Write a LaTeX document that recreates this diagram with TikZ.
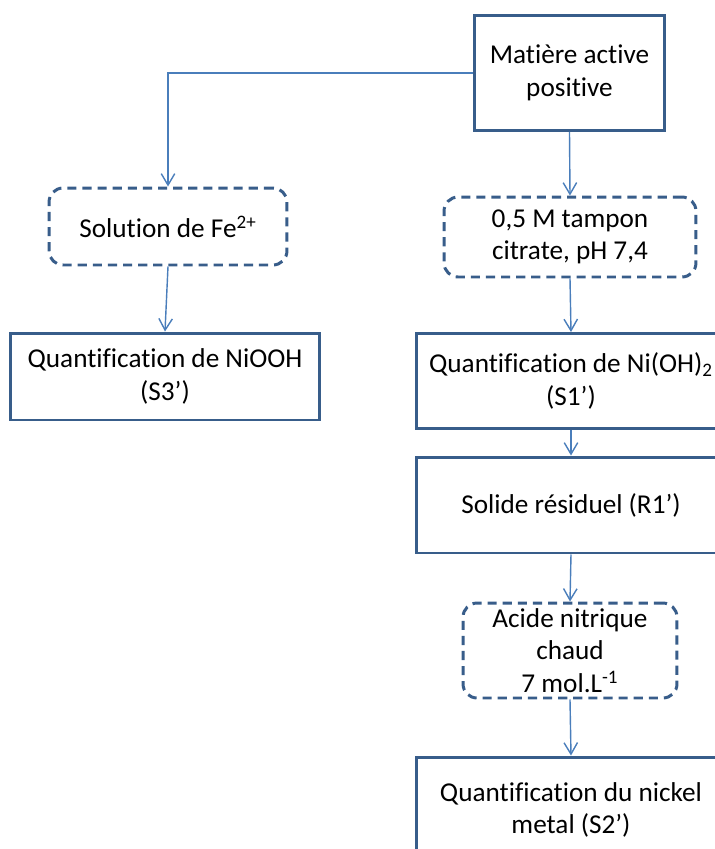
\documentclass[tikz,border=0pt]{standalone}
\usepackage{fontspec}
\setmainfont[Ligatures=NoCommon]{Carlito}
\usepackage{tikz}
\usetikzlibrary{arrows.meta, positioning}
\definecolor{cBox}{RGB}{56,93,138}
\definecolor{cLine}{RGB}{74,126,187}
\tikzset{
	procbox/.style ={rectangle, draw=cBox, line width=1.7pt, align=center, fill=white, inner sep=2pt},
	dashbox/.style ={rectangle, rounded corners=8pt, draw=cBox, line width=1.7pt, dash pattern=on 5.2pt off 3.4pt, align=center, fill=white, inner sep=2pt},
	flowarrow/.style={-{Straight Barb[length=2.3mm, width=2.7mm]}, draw=cLine, line width=0.8pt},
}
\begin{document}
\begin{tikzpicture}[x=0.02cm, y=-0.02cm, font=\fontsize{15.5}{18.5}\selectfont]
	\useasboundingbox (0,0) rectangle (715,849);
	\clip (0,0) rectangle (715,849);
	% main column
	\node[procbox, minimum width=3.82cm, minimum height=2.3cm] (matiere) at (569.5,73) {Matière active\\ positive};
	\node[dashbox, minimum width=5.04cm, minimum height=1.6cm] (citrate) at (570,237) {0,5 M tampon\\ citrate, pH 7,4};
	\node[procbox, minimum width=6.2cm, minimum height=1.9cm] (nioh) at (571,381) {Quantification de Ni(OH)\textsubscript{2}\\ (S1’)};
	\node[procbox, minimum width=6.2cm, minimum height=1.92cm] (residu) at (571,505) {Solide résiduel (R1’)};
	\node[dashbox, minimum width=4.28cm, minimum height=1.9cm] (acide) at (570,650.5) {Acide nitrique\\ chaud\\ 7 mol.L\textsuperscript{-1}};
	\node[procbox, minimum width=6.2cm, minimum height=2.12cm] (nickel) at (571,810) {Quantification du nickel\\ metal (S2’)};
	% left branch
	\node[dashbox, minimum width=4.76cm, minimum height=1.54cm] (fer) at (168,226.5) {Solution de Fe\textsuperscript{2+}};
	\node[procbox, minimum width=6.2cm, minimum height=1.74cm] (niooh) at (165,376.5) {Quantification de NiOOH\\ (S3’)};
	% connectors
	\draw[flowarrow] (matiere.west) -| (fer.north);
	\draw[flowarrow] (matiere.south) -- (citrate.north);
	\draw[flowarrow] (fer.south) -- (niooh.north);
	\draw[flowarrow] (citrate.south) -- (nioh.north);
	\draw[flowarrow] (nioh.south) -- (residu.north);
	\draw[flowarrow] (residu.south) -- (acide.north);
	\draw[flowarrow] (acide.south) -- (nickel.north);
\end{tikzpicture}
\end{document}
